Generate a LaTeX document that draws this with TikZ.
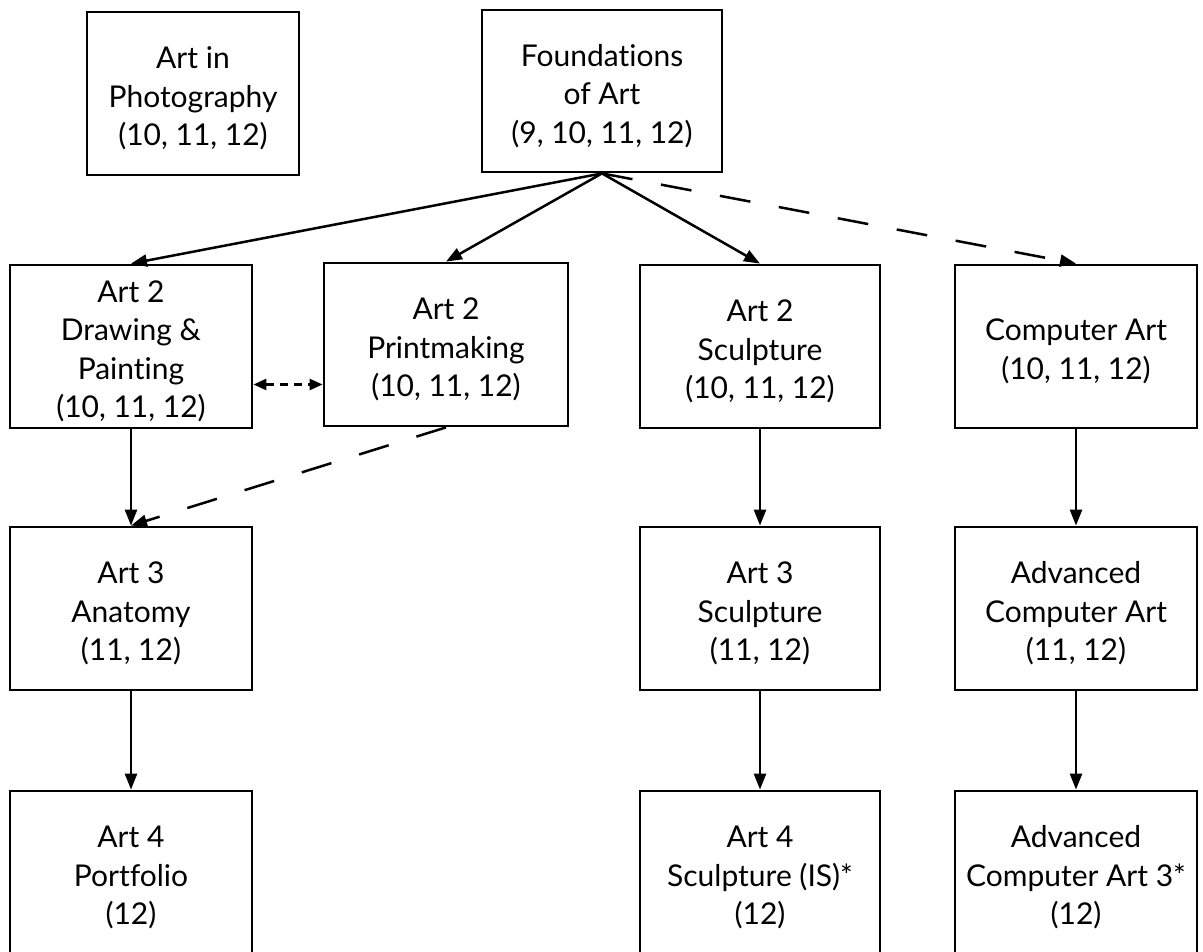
\documentclass[tikz,border=0pt]{standalone}
\usepackage{fontspec}
\setmainfont{Lato}[Ligatures=NoCommon]
\usetikzlibrary{arrows.meta}
\newcommand\bxtext[1]{\raisebox{-6pt}[\height][\depth]{\begin{tabular}{@{}c@{}}#1\end{tabular}}}
\begin{document}
\begin{tikzpicture}[x=1pt,y=-1pt,
  box/.style={draw,line width=2.8pt,minimum width=#1,minimum height=163pt,align=center,inner sep=0pt,
    font=\fontsize{30}{38.5}\selectfont},
  box/.default=242pt,
  conn/.style={line width=2.5pt,-{Triangle[length=16pt,width=12pt]}},
  dconn/.style={conn,dash pattern=on 31pt off 29pt},
  dotconn/.style={line width=2.5pt,dash pattern=on 8pt off 6pt,{Triangle[length=13pt,width=11pt]}-{Triangle[length=13pt,width=11pt]}}]
\useasboundingbox (0,0) rectangle (1203,952);
\clip (0,0) rectangle (1203,952);
\node[box=212pt] (photo) at (193,93.5) {\bxtext{Art in\\Photography\\(10, 11, 12)}};
\node[box=240pt,minimum height=162pt] (found) at (602,91) {\bxtext{Foundations\\of Art\\(9, 10, 11, 12)}};
\node[box] (dp) at (131,346.5) {\bxtext{Art 2\\Drawing \&\\Painting\\(10, 11, 12)}};
\node[box=244pt] (pm) at (446,344.5) {\bxtext{Art 2\\Printmaking\\(10, 11, 12)}};
\node[box=240pt] (sc2) at (760,346.5) {\bxtext{Art 2\\Sculpture\\(10, 11, 12)}};
\node[box] (ca) at (1076,346.5) {\bxtext{Computer Art\\(10, 11, 12)}};
\node[box] (an) at (131,608.5) {\bxtext{Art 3\\Anatomy\\(11, 12)}};
\node[box=240pt] (sc3) at (760,608.5) {\bxtext{Art 3\\Sculpture\\(11, 12)}};
\node[box] (aca) at (1076,608.5) {\bxtext{Advanced\\Computer Art\\(11, 12)}};
\node[box] (pf) at (131,872.5) {\bxtext{Art 4\\Portfolio\\(12)}};
\node[box=240pt] (sc4) at (760,872.5) {\bxtext{Art 4\\Sculpture (IS)*\\(12)}};
\node[box] (aca3) at (1076,872.5) {\bxtext{Advanced\\Computer Art 3*\\(12)}};
\draw[conn] (found.south) -- (dp.north);
\draw[conn] (found.south) -- (pm.north);
\draw[conn] (found.south) -- (sc2.north);
\draw[dconn] (found.south) -- (ca.north);
\draw[dotconn] ([yshift=-38pt]dp.east) -- ([yshift=-40pt]pm.west);
\draw[conn] (dp.south) -- (an.north);
\draw[dconn] (pm.south) -- (an.north);
\draw[conn] (sc2.south) -- (sc3.north);
\draw[conn] (ca.south) -- (aca.north);
\draw[conn] (an.south) -- (pf.north);
\draw[conn] (sc3.south) -- (sc4.north);
\draw[conn] (aca.south) -- (aca3.north);
\end{tikzpicture}
\end{document}
